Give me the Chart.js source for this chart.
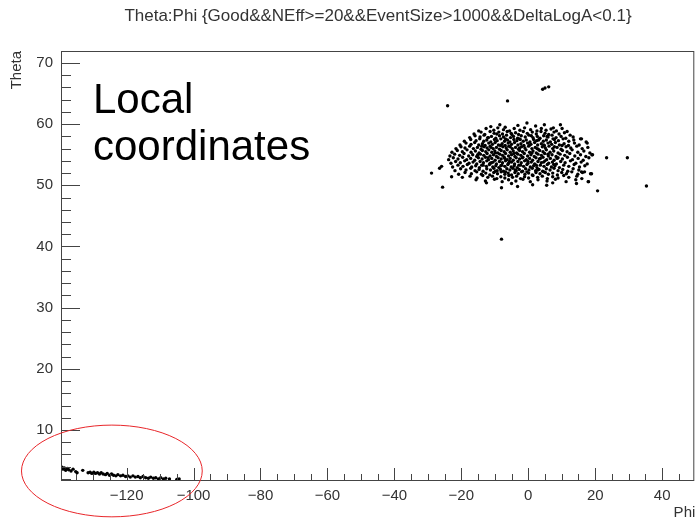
<!DOCTYPE html>
<html>
<head>
<meta charset="utf-8">
<title>Theta:Phi</title>
<script src="https://cdn.jsdelivr.net/npm/chart.js@4.4.1/dist/chart.umd.min.js"></script>
<style>
  html, body { margin: 0; padding: 0; background: #fff; }
  canvas { display: block; }
</style>
</head>
<body>
<canvas id="thetaPhi" width="696" height="521"></canvas>
<script>
// axis ranges and labelled ticks
const phiRange = [-139.6, 49.6];
const thetaRange = [1.66, 71.96];
const phiTicks = [-120, -100, -80, -60, -40, -20, 0, 20, 40];
const thetaTicks = [10, 20, 30, 40, 50, 60, 70];

// main blob of events, [phi, theta]
const clusterPoints = [
  [-11.2,59.6],[-8.5,59.9],[-6.9,59.5],[-3.1,59.8],[-0.4,60.2],[2.2,59.7],[4.8,59.9],[7.5,59.4],[9.6,59.9],
  [-14.8,58.9],[-12.6,59.3],[-10.3,59.0],[-9.1,59.4],[-7.4,59.1],[-5.6,58.9],[-4.2,59.3],[-2.5,59.0],[-1.1,59.4],
  [0.7,59.1],[2.6,58.9],[3.9,59.3],[5.3,59.0],[6.8,59.2],[8.4,58.9],[10.1,59.3],[11.6,58.8],
  [-16.2,58.4],[-14.1,58.7],[-13.0,58.3],[-11.4,58.8],[-10.2,58.5],[-8.8,58.7],[-7.7,58.4],[-6.3,58.8],[-5.1,58.5],
  [-3.8,58.6],[-2.9,58.3],[-1.5,58.8],[-0.3,58.5],[1.2,58.7],[2.4,58.4],[3.8,58.8],[5.0,58.5],[6.1,58.3],
  [7.7,58.7],[9.2,58.4],[10.8,58.6],[12.5,58.2],
  [-17.5,57.8],[-15.9,58.1],[-14.4,57.9],[-13.2,58.2],[-12.1,57.8],[-11.0,58.0],[-9.7,57.7],[-8.6,58.1],[-7.4,57.9],
  [-6.5,58.2],[-5.3,57.8],[-4.4,58.0],[-3.2,57.7],[-2.1,58.1],[-0.9,57.9],[0.2,58.2],[1.4,57.8],[2.7,58.0],
  [3.5,57.7],[4.6,58.1],[5.9,57.9],[7.1,58.2],[8.3,57.8],[9.8,58.0],[11.2,57.7],[13.4,57.9],[15.6,57.6],
  [-19.1,57.2],[-17.2,57.5],[-15.6,57.3],[-14.5,57.6],[-13.3,57.2],[-12.4,57.4],[-11.2,57.1],[-10.1,57.5],[-9.3,57.3],
  [-8.2,57.6],[-7.1,57.2],[-6.2,57.4],[-5.5,57.1],[-4.3,57.5],[-3.4,57.3],[-2.6,57.6],[-1.5,57.2],[-0.6,57.4],
  [0.5,57.1],[1.6,57.5],[2.5,57.3],[3.3,57.6],[4.5,57.2],[5.4,57.4],[6.6,57.1],[7.8,57.5],[9.0,57.3],
  [10.4,57.6],[12.1,57.2],[13.6,57.4],[15.9,57.6],[17.3,57.1],
  [-20.4,56.6],[-18.6,56.9],[-17.1,56.7],[-16.0,57.0],[-14.8,56.6],[-13.7,56.8],[-12.9,56.5],[-11.8,56.9],[-10.7,56.7],
  [-9.9,57.0],[-8.9,56.6],[-7.8,56.8],[-6.9,56.5],[-6.0,56.9],[-5.0,56.7],[-4.1,57.0],[-3.1,56.6],[-2.2,56.8],
  [-1.3,56.5],[-0.2,56.9],[0.8,56.7],[1.9,57.0],[2.8,56.6],[3.9,56.8],[4.8,56.5],[5.9,56.9],[7.0,56.7],
  [8.1,57.0],[9.3,56.6],[10.7,56.8],[12.0,56.5],[13.8,56.9],[15.2,56.6],[17.6,56.9],
  [-21.6,56.0],[-20.1,56.3],[-18.9,56.1],[-17.5,56.4],[-16.4,56.0],[-15.2,56.2],[-14.1,55.9],[-13.2,56.3],[-12.3,56.1],
  [-11.4,56.4],[-10.5,56.0],[-9.5,56.2],[-8.6,55.9],[-7.6,56.3],[-6.6,56.1],[-5.8,56.4],[-4.8,56.0],[-3.8,56.2],
  [-2.9,55.9],[-2.0,56.3],[-1.0,56.1],[0.1,56.4],[1.1,56.0],[2.1,56.2],[3.0,55.9],[4.2,56.3],[5.1,56.1],
  [6.2,56.4],[7.3,56.0],[8.6,56.2],[9.8,55.9],[11.3,56.3],[12.7,56.1],[14.5,56.4],[16.1,56.0],[17.8,56.2],
  [-22.8,55.4],[-21.2,55.7],[-19.7,55.5],[-18.3,55.8],[-17.1,55.4],[-15.8,55.6],[-14.7,55.3],[-13.7,55.7],[-12.7,55.5],
  [-11.8,55.8],[-10.9,55.4],[-10.0,55.6],[-9.1,55.3],[-8.1,55.7],[-7.2,55.5],[-6.3,55.8],[-5.4,55.4],[-4.5,55.6],
  [-3.5,55.3],[-2.6,55.7],[-1.7,55.5],[-0.7,55.8],[0.4,55.4],[1.4,55.6],[2.4,55.3],[3.4,55.7],[4.4,55.5],
  [5.4,55.8],[6.5,55.4],[7.6,55.6],[8.9,55.3],[10.2,55.7],[11.6,55.5],[13.1,55.8],[14.8,55.4],[16.6,55.6],[18.4,55.3],
  [-23.4,54.8],[-22.0,55.1],[-20.5,54.9],[-19.2,55.2],[-17.8,54.8],[-16.6,55.0],[-15.4,54.7],[-14.3,55.1],[-13.3,54.9],
  [-12.3,55.2],[-11.4,54.8],[-10.4,55.0],[-9.5,54.7],[-8.5,55.1],[-7.7,54.9],[-6.8,55.2],[-5.9,54.8],[-5.0,55.0],
  [-4.0,54.7],[-3.1,55.1],[-2.2,54.9],[-1.2,55.2],[-0.2,54.8],[0.8,55.0],[1.8,54.7],[2.9,55.1],[3.9,54.9],
  [4.9,55.2],[6.0,54.8],[7.1,55.0],[8.3,54.7],[9.5,55.1],[10.9,54.9],[12.4,55.2],[13.9,54.8],[15.6,55.0],[17.2,54.7],[19.0,55.0],
  [-23.8,54.2],[-22.4,54.5],[-21.0,54.3],[-19.6,54.6],[-18.4,54.2],[-17.2,54.4],[-16.0,54.1],[-14.9,54.5],[-13.8,54.3],
  [-12.8,54.6],[-11.9,54.2],[-10.9,54.4],[-9.9,54.1],[-9.0,54.5],[-8.1,54.3],[-7.2,54.6],[-6.3,54.2],[-5.4,54.4],
  [-4.5,54.1],[-3.6,54.5],[-2.6,54.3],[-1.6,54.6],[-0.6,54.2],[0.4,54.4],[1.3,54.1],[2.3,54.5],[3.3,54.3],
  [4.4,54.6],[5.5,54.2],[6.6,54.4],[7.7,54.1],[8.9,54.5],[10.2,54.3],[11.7,54.6],[13.2,54.2],[14.9,54.4],[16.4,54.1],[18.1,54.5],
  [-23.1,53.6],[-21.7,53.9],[-20.3,53.7],[-19.0,54.0],[-17.7,53.6],[-16.5,53.8],[-15.4,53.5],[-14.4,53.9],[-13.4,53.7],
  [-12.4,54.0],[-11.4,53.6],[-10.5,53.8],[-9.5,53.5],[-8.6,53.9],[-7.7,53.7],[-6.8,54.0],[-5.9,53.6],[-5.0,53.8],
  [-4.1,53.5],[-3.1,53.9],[-2.1,53.7],[-1.1,54.0],[-0.1,53.6],[0.9,53.8],[1.9,53.5],[2.9,53.9],[3.9,53.7],
  [5.0,54.0],[6.1,53.6],[7.2,53.8],[8.4,53.5],[9.7,53.9],[11.0,53.7],[12.6,54.0],[14.2,53.6],[15.8,53.8],[17.6,53.5],
  [-22.6,53.0],[-21.0,53.3],[-19.5,53.1],[-18.2,53.4],[-16.9,53.0],[-15.7,53.2],[-14.6,52.9],[-13.5,53.3],[-12.5,53.1],
  [-11.6,53.4],[-10.6,53.0],[-9.7,53.2],[-8.8,52.9],[-7.9,53.3],[-7.0,53.1],[-6.1,53.4],[-5.1,53.0],[-4.2,53.2],
  [-3.3,52.9],[-2.3,53.3],[-1.4,53.1],[-0.4,53.4],[0.6,53.0],[1.6,53.2],[2.6,52.9],[3.6,53.3],[4.7,53.1],
  [5.7,53.4],[6.9,53.0],[8.0,53.2],[9.3,52.9],[10.6,53.3],[12.1,53.1],[13.7,53.4],[15.3,53.0],[16.9,53.2],
  [-21.9,52.4],[-20.2,52.7],[-18.6,52.5],[-17.2,52.8],[-15.9,52.4],[-14.7,52.6],[-13.5,52.3],[-12.4,52.7],[-11.3,52.5],
  [-10.3,52.8],[-9.3,52.4],[-8.3,52.6],[-7.4,52.3],[-6.4,52.7],[-5.5,52.5],[-4.6,52.8],[-3.6,52.4],[-2.7,52.6],
  [-1.7,52.3],[-0.8,52.7],[0.2,52.5],[1.2,52.8],[2.2,52.4],[3.2,52.6],[4.3,52.3],[5.4,52.7],[6.5,52.5],
  [7.7,52.8],[8.9,52.4],[10.3,52.6],[11.8,52.3],[13.4,52.7],[15.1,52.5],[16.8,52.2],
  [-20.8,51.8],[-18.9,52.1],[-17.0,51.9],[-15.4,52.2],[-14.0,51.8],[-12.7,52.0],[-11.5,51.7],[-10.3,52.1],[-9.2,51.9],
  [-8.1,52.2],[-7.0,51.8],[-6.0,52.0],[-5.0,51.7],[-4.0,52.1],[-3.0,51.9],[-2.0,52.2],[-1.0,51.8],[0.1,52.0],
  [1.2,51.7],[2.3,52.1],[3.5,51.9],[4.7,52.2],[6.0,51.8],[7.3,52.0],[8.7,51.7],[10.0,52.1],[11.4,51.9],
  [13.0,52.2],[14.8,51.8],[16.2,52.1],[18.6,51.9],
  [-19.7,51.3],[-17.4,51.5],[-15.3,51.2],[-13.6,51.6],[-12.1,51.3],[-10.7,51.5],[-9.4,51.1],[-8.2,51.4],[-7.0,51.2],
  [-5.8,51.6],[-4.7,51.3],[-3.5,51.5],[-2.3,51.1],[-1.1,51.4],[0.1,51.2],[1.4,51.6],[2.8,51.3],[4.2,51.5],
  [5.7,51.1],[7.3,51.4],[8.9,51.2],[10.6,51.6],[12.1,51.3],[14.5,51.5],[16.0,51.1],
  [-15.6,50.9],[-12.8,50.7],[-10.1,51.0],[-7.8,50.6],[-5.9,50.9],[-3.7,50.7],[-1.6,51.0],[0.6,50.6],[2.9,50.9],
  [5.6,50.7],[8.1,51.0],[11.3,50.6],[14.2,50.9],[17.9,50.6],
  [-8.0,49.6],[-5.0,50.3],[-3.2,49.8],[1.3,50.1],[5.5,50.0],[7.3,50.4],[14.4,50.3],[-12.5,50.4]
];

// denser core of the blob
const corePoints = [
  [-11.9,57.8],[-9.4,58.4],[-6.8,57.6],[-4.9,58.3],[-2.4,57.5],[0.9,58.1],[3.1,57.4],[5.6,58.0],[7.4,57.6],
  [-13.9,56.4],[-11.1,56.2],[-8.3,56.5],[-5.4,56.3],[-2.6,56.1],[0.4,56.6],[2.6,56.0],[4.6,56.6],[7.8,56.3],[10.1,56.5],
  [-15.1,55.0],[-12.0,54.5],[-9.8,55.3],[-7.0,54.4],[-4.3,55.2],[-1.8,54.5],[1.1,55.3],[3.6,54.4],[5.9,55.1],[8.6,54.4],
  [-13.9,53.3],[-11.0,53.7],[-8.2,53.2],[-5.6,53.9],[-2.8,53.3],[-0.1,53.9],[2.4,53.3],[4.6,53.8],[7.6,53.4],
  [-9.8,52.3],[-6.8,52.2],[-3.9,52.5],[-0.4,52.2],[2.8,52.5],[5.1,52.1]
];

// isolated events around the blob
const strayPoints = [
  [-24.1,63.0],[-6.2,63.8],[4.3,65.7],[5.0,65.9],[6.1,66.1],[-8.0,41.2],[35.3,49.9],[29.6,54.5],
  [23.4,54.5],[20.7,49.1],[-25.6,49.7],[-28.9,52.0],[-26.5,52.8],[-25.9,53.1],[-22.9,51.4],
  [19.2,55.0],[18.0,50.6],[18.9,51.9],[15.9,52.2]
];

// low theta band near the left edge
const bandPoints = [
  [-139.3,3.9],[-139.0,3.6],[-138.6,3.8],[-138.2,3.4],[-137.7,3.7],[-137.3,3.5],[-136.6,3.3],[-136.0,3.6],
  [-135.2,3.2],[-134.8,3.0],[-133.1,3.4],[-131.5,3.0],[-130.9,3.1],[-130.4,2.9],[-129.8,3.1],[-129.3,2.9],
  [-128.7,3.0],[-128.1,2.8],[-127.6,3.0],[-127.0,2.8],[-126.3,2.7],[-125.8,2.9],[-125.1,2.6],[-124.5,2.8],
  [-123.9,2.6],[-123.2,2.5],[-122.6,2.7],[-121.8,2.5],[-121.1,2.6],[-120.3,2.4],[-119.6,2.5],[-118.9,2.3],
  [-118.1,2.5],[-117.4,2.3],[-116.6,2.4],[-115.9,2.2],[-115.1,2.4],[-114.3,2.2],[-113.5,2.1],[-112.8,2.3],
  [-112.0,2.1],[-111.3,2.2],[-110.5,2.0],[-109.8,2.2],[-109.0,2.0],[-108.3,2.1],[-107.2,2.0],[-105.0,1.9],[-104.3,2.0]
];

// red ring around the band: centre and half axes in phi/theta units
const ringCenter = [-124.4, 3.3];
const ringRadii = [27.0, 7.5];

const FONT = "'Liberation Sans', Arial, Helvetica, sans-serif";
const INK = '#333';

function toXY(list) {
  return list.map(p => ({ x: p[0], y: p[1] }));
}

function minusLabel(v) {
  return v < 0 ? '\u2212' + Math.abs(v) : String(v);
}

const markerStyle = {
  pointRadius: 1.7,
  pointHoverRadius: 1.7,
  pointBackgroundColor: '#000',
  pointBorderWidth: 0,
  showLine: false
};

// ROOT-like frame, inward ticks, titles and the ring
const rootDecor = {
  id: 'rootDecor',
  afterDraw(chart) {
    const ctx = chart.ctx;
    const area = chart.chartArea;
    const xs = chart.scales.x;
    const ys = chart.scales.y;
    ctx.save();

    ctx.strokeStyle = '#444';
    ctx.lineWidth = 1;
    ctx.strokeRect(area.left + 0.5, area.top + 0.5, area.right - area.left - 1, area.bottom - area.top - 1);

    // ticks on the phi axis (major 20, minor 5)
    ctx.beginPath();
    for (let v = -135; v <= 45; v += 5) {
      const px = Math.round(xs.getPixelForValue(v)) + 0.5;
      const len = v % 20 === 0 ? 13 : 7;
      ctx.moveTo(px, area.bottom);
      ctx.lineTo(px, area.bottom - len);
    }
    // ticks on the theta axis (major 10, minor 2)
    for (let v = 2; v <= 70; v += 2) {
      const py = Math.round(ys.getPixelForValue(v)) + 0.5;
      const len = v % 10 === 0 ? 19 : 10;
      ctx.moveTo(area.left, py);
      ctx.lineTo(area.left + len, py);
    }
    ctx.stroke();

    // title
    ctx.fillStyle = INK;
    ctx.font = '17px ' + FONT;
    ctx.textAlign = 'center';
    ctx.textBaseline = 'alphabetic';
    ctx.fillText('Theta:Phi {Good&&NEff>=20&&EventSize>1000&&DeltaLogA<0.1}', 378, 21);

    // axis titles
    ctx.font = '15px ' + FONT;
    ctx.textAlign = 'right';
    ctx.fillText('Phi', area.right + 1, 517);
    ctx.save();
    ctx.translate(21, area.top);
    ctx.rotate(-Math.PI / 2);
    ctx.fillText('Theta', 0, 0);
    ctx.restore();

    // label inside the frame
    ctx.fillStyle = '#000';
    ctx.font = '42px ' + FONT;
    ctx.textAlign = 'left';
    ctx.fillText('Local', 93, 113);
    ctx.fillText('coordinates', 93, 160);

    // ring around the low theta band
    const cx = xs.getPixelForValue(ringCenter[0]);
    const cy = ys.getPixelForValue(ringCenter[1]);
    const rx = Math.abs(xs.getPixelForValue(ringCenter[0] + ringRadii[0]) - cx);
    const ry = Math.abs(ys.getPixelForValue(ringCenter[1] + ringRadii[1]) - cy);
    ctx.strokeStyle = '#e8262a';
    ctx.lineWidth = 1;
    ctx.beginPath();
    ctx.ellipse(cx, cy, rx, ry, 0, 0, Math.PI * 2);
    ctx.stroke();

    ctx.restore();
  }
};

new Chart(document.getElementById('thetaPhi'), {
  type: 'scatter',
  data: {
    datasets: [
      Object.assign({ label: 'cluster', data: toXY(clusterPoints) }, markerStyle),
      Object.assign({ label: 'core', data: toXY(corePoints) }, markerStyle),
      Object.assign({ label: 'stray', data: toXY(strayPoints) }, markerStyle),
      Object.assign({ label: 'band', data: toXY(bandPoints) }, markerStyle)
    ]
  },
  options: {
    responsive: false,
    animation: false,
    layout: { padding: { top: 51, right: 1, left: 0, bottom: 0 } },
    plugins: {
      legend: { display: false },
      tooltip: { enabled: false },
      title: { display: false }
    },
    scales: {
      x: {
        type: 'linear',
        min: phiRange[0],
        max: phiRange[1],
        afterBuildTicks: s => { s.ticks = phiTicks.map(v => ({ value: v })); },
        afterFit: s => { s.height = 40; },
        grid: { display: false, drawTicks: false },
        border: { display: false },
        ticks: {
          color: INK,
          padding: 6,
          maxRotation: 0,
          autoSkip: false,
          font: { family: FONT, size: 15 },
          callback: v => minusLabel(v)
        }
      },
      y: {
        type: 'linear',
        min: thetaRange[0],
        max: thetaRange[1],
        afterBuildTicks: s => { s.ticks = thetaTicks.map(v => ({ value: v })); },
        afterFit: s => { s.width = 61; },
        grid: { display: false, drawTicks: false },
        border: { display: false },
        ticks: {
          color: INK,
          padding: 8,
          autoSkip: false,
          font: { family: FONT, size: 15 },
          callback: v => minusLabel(v)
        }
      }
    }
  },
  plugins: [rootDecor]
});
</script>
</body>
</html>
